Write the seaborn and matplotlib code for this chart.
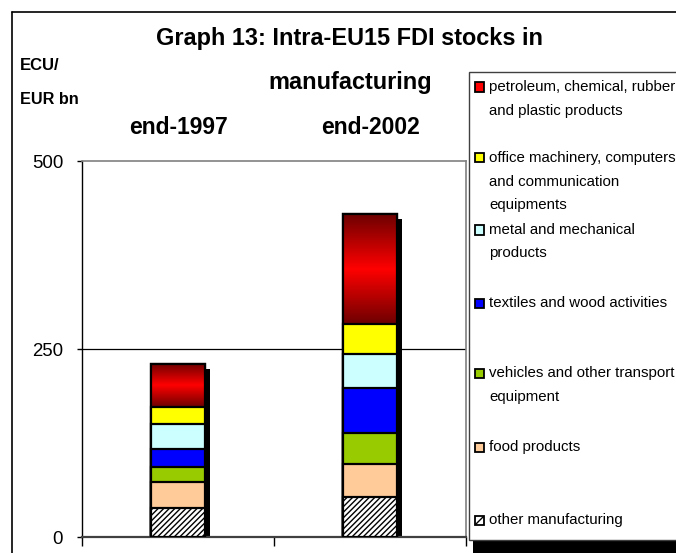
import numpy as np
import pandas as pd
import matplotlib
matplotlib.use("Agg")
import matplotlib.pyplot as plt
import matplotlib.transforms as mtransforms
from matplotlib.patches import Rectangle
from matplotlib.lines import Line2D
from matplotlib.colors import LinearSegmentedColormap
import seaborn as sns

# ---------------- data ----------------
periods = ["end-1997", "end-2002"]
sectors = [
    "other manufacturing",
    "food products",
    "vehicles and other transport equipment",
    "textiles and wood activities",
    "metal and mechanical products",
    "office machinery, computers and communication equipments",
    "petroleum, chemical, rubber and plastic products",
]
other_manufacturing = [38.5, 53]
food_products = [34.5, 44]
vehicles_transport = [20, 41]
textiles_wood = [24, 60]
metal_mechanical = [33, 45]
office_computers = [22.5, 40]
petroleum_chemical = [58, 146]

sector_colors = ["#FFFFFF", "#FFCC99", "#99CC00", "#0000FF", "#CCFFFF", "#FFFF00", "#FF0000"]
legend_text = [
    ["petroleum, chemical, rubber", "and plastic products"],
    ["office machinery, computers", "and communication", "equipments"],
    ["metal and mechanical", "products"],
    ["textiles and wood activities"],
    ["vehicles and other transport", "equipment"],
    ["food products"],
    ["other manufacturing"],
]
y_ticks = [0, 250, 500]

values = [other_manufacturing, food_products, vehicles_transport, textiles_wood,
          metal_mechanical, office_computers, petroleum_chemical]

# ---------------- style ----------------
sns.set_style("white")
FONT = ["Liberation Sans", "DejaVu Sans"]
plt.rcParams["font.family"] = FONT
plt.rcParams["text.color"] = "black"
plt.rcParams["xtick.color"] = "black"
plt.rcParams["ytick.color"] = "black"
plt.rcParams["axes.labelcolor"] = "black"
plt.rcParams["hatch.linewidth"] = 1.0
plt.rcParams["hatch.color"] = "#555555"

W, H = 676, 553
fig = plt.figure(figsize=(W / 100, H / 100), dpi=100)
fig.patch.set_facecolor("white")

def fx(px):
    return px / W

def fy(py):
    return 1 - py / H

ax = fig.add_axes([fx(82), fy(537), fx(466) - fx(82), fy(161) - fy(537)])
ax.set_facecolor("white")

BAR_W = 0.285
cum = np.cumsum(np.array(values), axis=0)  # rows: sectors bottom->top
totals = cum[-1]

# shadow of whole stack
n0 = len(ax.patches)
sns.barplot(x=periods, y=totals, color="black", saturation=1, width=BAR_W,
            linewidth=0, ax=ax)
shift = mtransforms.ScaledTranslation(5 / 100, -5 / 100, fig.dpi_scale_trans)
for p in ax.patches[n0:]:
    p.set_transform(ax.transData + shift)
    p.set_zorder(1)

# stacked layers drawn from the top cumulative downwards
red_cmap = LinearSegmentedColormap.from_list("redgrad", ["#6e0000", "#ff0000", "#6e0000"])
for i in reversed(range(len(sectors))):
    n0 = len(ax.patches)
    kw = {}
    if i == 0:
        kw["hatch"] = "//////"
    sns.barplot(x=periods, y=cum[i], color=sector_colors[i], saturation=1,
                width=BAR_W, edgecolor="black", linewidth=1.6, ax=ax, **kw)
    z = 2 + (len(sectors) - i) * 0.1
    new = ax.patches[n0:]
    for p in new:
        p.set_zorder(z)
    if i == len(sectors) - 1:
        grad = np.linspace(0, 1, 200).reshape(-1, 1)
        for j, p in enumerate(new):
            x0 = p.get_x()
            x1 = x0 + p.get_width()
            lo = cum[i - 1][j]
            hi = p.get_height() + p.get_y()
            im = ax.imshow(grad, extent=[x0, x1, lo, hi], origin="lower",
                           aspect="auto", cmap=red_cmap, zorder=z + 0.01,
                           interpolation="bilinear")
            im.set_clip_path(p)
            ax.add_patch(Rectangle((x0, p.get_y()), p.get_width(), p.get_height(),
                                   fill=False, edgecolor="black", linewidth=1.6,
                                   zorder=z + 0.02))

ax.axhline(250, color="black", linewidth=0.9, zorder=0.5)
ax.set_xlim(-0.5, 1.5)
ax.set_ylim(0, 500)
ax.set_xlabel("")
ax.set_ylabel("")

ax.set_yticks(y_ticks)
ax.set_yticklabels([str(t) for t in y_ticks])
ax.tick_params(axis="y", left=True, length=3.6, width=1, pad=10, labelsize=13.4,
               direction="out", color="black", labelcolor="black")
ax.set_xticks([-0.5, 0.5, 1.5])
ax.set_xticklabels(["", "", ""])
ax.tick_params(axis="x", bottom=True, length=6.5, width=1, direction="out", color="black")

for s in ["top", "right"]:
    ax.spines[s].set_color("#808080")
    ax.spines[s].set_linewidth(1.2)
ax.spines["left"].set_color("black")
ax.spines["left"].set_linewidth(1.0)
ax.spines["bottom"].set_color("#404040")
ax.spines["bottom"].set_linewidth(1.6)

secax = ax.secondary_xaxis("top")
secax.set_xticks([0, 1])
secax.set_xticklabels(periods, fontsize=16.5, fontweight="bold", color="black")
secax.tick_params(length=0, pad=16)
secax.spines["top"].set_visible(False)

# outer chart border
fig.add_artist(Line2D([fx(12), fx(12)], [0, fy(12)], transform=fig.transFigure,
                      color="black", linewidth=1.2))
fig.add_artist(Line2D([fx(12), 1], [fy(12), fy(12)], transform=fig.transFigure,
                      color="black", linewidth=1.2))

# titles
fig.text(fx(350), fy(39), "Graph 13: Intra-EU15 FDI stocks in", ha="center", va="center",
         fontsize=16.9, fontweight="bold")
fig.text(fx(350), fy(83), "manufacturing", ha="center", va="center",
         fontsize=16.9, fontweight="bold")
fig.text(fx(20), fy(66), "ECU/", ha="left", va="center", fontsize=12.0, fontweight="bold")
fig.text(fx(20), fy(99), "EUR bn", ha="left", va="center", fontsize=11.7, fontweight="bold")

# legend
fig.add_artist(Rectangle((fx(473), fy(553)), fx(700) - fx(473), fy(80) - fy(553),
                         transform=fig.transFigure, facecolor="black", edgecolor="none",
                         zorder=5))
fig.add_artist(Rectangle((fx(469), fy(540)), fx(700) - fx(469), fy(72) - fy(540),
                         transform=fig.transFigure, facecolor="white", edgecolor="#404040",
                         linewidth=1.0, zorder=6))
entry_y = [87, 158, 230, 303, 373, 447, 520]
legend_colors = sector_colors[::-1]
for k, lines in enumerate(legend_text):
    cy = entry_y[k]
    is_hatched = k == len(legend_text) - 1
    fig.add_artist(Rectangle((fx(475), fy(cy + 4.5)), fx(9) - fx(0), fy(0) - fy(9),
                             transform=fig.transFigure, facecolor=legend_colors[k],
                             edgecolor="black", linewidth=1.3, zorder=7,
                             hatch="////" if is_hatched else None))
    for li, line in enumerate(lines):
        fig.text(fx(489), fy(cy + 23.5 * li), line, ha="left", va="center",
                 fontsize=10.8, zorder=8)

fig.savefig("out.png", dpi=100)
